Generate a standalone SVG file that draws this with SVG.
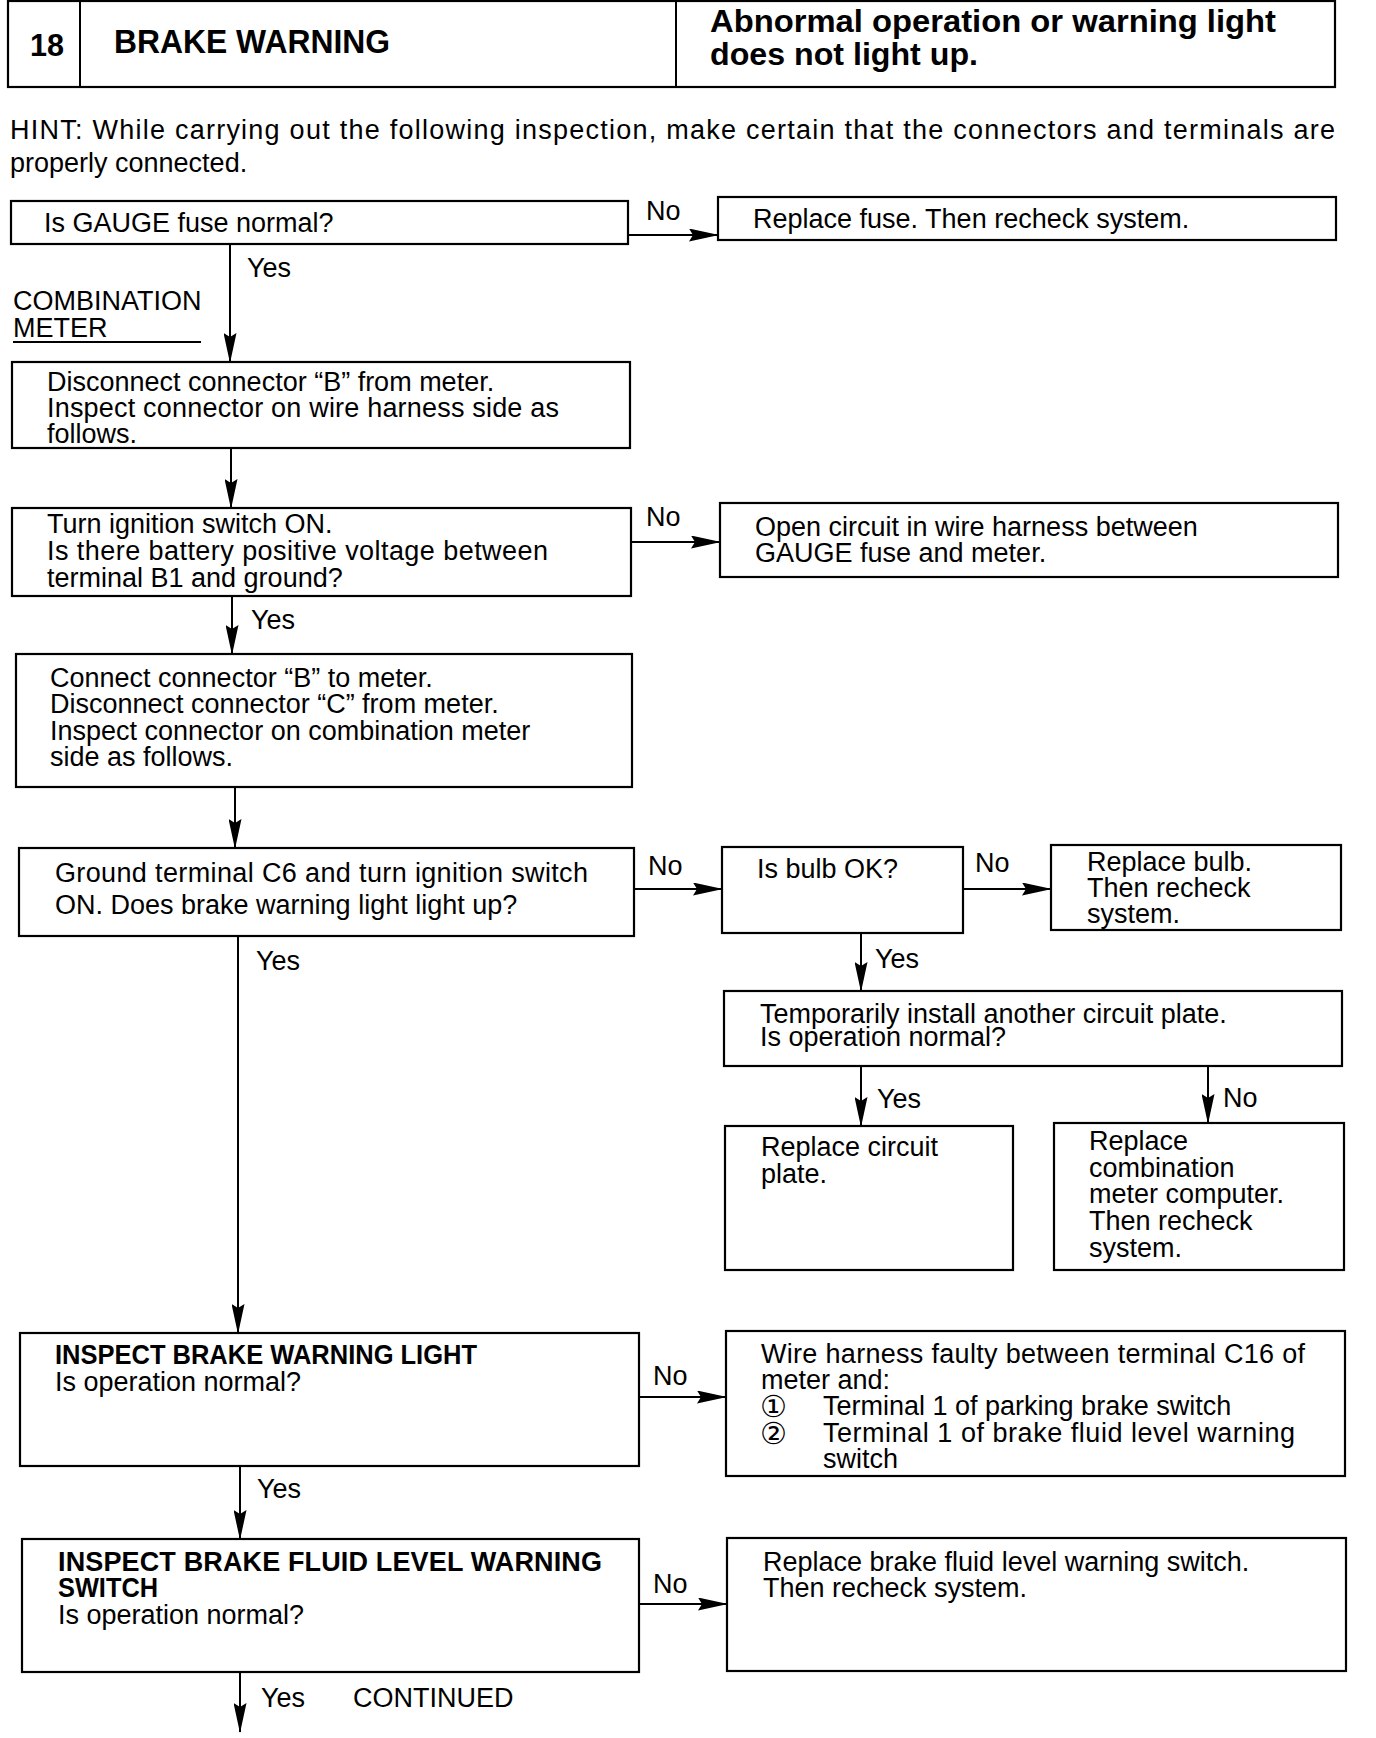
<svg xmlns="http://www.w3.org/2000/svg" width="1376" height="1738" viewBox="0 0 1376 1738">
<style>
text{font-family:"Liberation Sans",Arial,sans-serif;font-size:27px;fill:#000}
.b{font-weight:bold}
.box{fill:#fff;stroke:#000;stroke-width:2.2}
.ln{stroke:#000;stroke-width:2;fill:none}
.circ{font-family:"DejaVu Sans","Liberation Sans",sans-serif;font-size:30px}
</style>
<defs>
<marker id="ah" markerWidth="30" markerHeight="13" refX="29" refY="6.5" orient="auto" markerUnits="userSpaceOnUse">
<path d="M0,0 L30,6.5 L0,13 L4,6.5 Z" fill="#000"/>
</marker>
</defs>
<rect width="1376" height="1738" fill="#fff"/>

<g id="header">
<rect x="8" y="1" width="1327" height="86" fill="none" stroke="#000" stroke-width="2.2"/>
<line x1="80" y1="1" x2="80" y2="87" class="ln"/>
<line x1="676" y1="1" x2="676" y2="87" class="ln"/>
<text x="30" y="56" class="b" style="font-size:32px" textLength="34" lengthAdjust="spacingAndGlyphs">18</text>
<text x="114" y="53" class="b" style="font-size:33px" textLength="276" lengthAdjust="spacingAndGlyphs">BRAKE WARNING</text>
<text x="710" y="32" class="b" style="font-size:32px" textLength="566" lengthAdjust="spacingAndGlyphs">Abnormal operation or warning light</text>
<text x="710" y="65" class="b" style="font-size:32px" textLength="268" lengthAdjust="spacingAndGlyphs">does not light up.</text>
</g>

<g id="hint">
<text x="10" y="139" textLength="1325" lengthAdjust="spacing">HINT:  While carrying out the following inspection, make certain that the connectors and terminals are</text>
<text x="10" y="172">properly connected.</text>
</g>

<g id="connectors">
<line x1="628" y1="235" x2="718" y2="235" class="ln" marker-end="url(#ah)"/>
<line x1="230" y1="244" x2="230" y2="362" class="ln" marker-end="url(#ah)"/>
<line x1="231" y1="448" x2="231" y2="508" class="ln" marker-end="url(#ah)"/>
<line x1="631" y1="542" x2="720" y2="542" class="ln" marker-end="url(#ah)"/>
<line x1="232" y1="596" x2="232" y2="654" class="ln" marker-end="url(#ah)"/>
<line x1="235" y1="787" x2="235" y2="848" class="ln" marker-end="url(#ah)"/>
<line x1="634" y1="889" x2="722" y2="889" class="ln" marker-end="url(#ah)"/>
<line x1="963" y1="889" x2="1051" y2="889" class="ln" marker-end="url(#ah)"/>
<line x1="861" y1="933" x2="861" y2="991" class="ln" marker-end="url(#ah)"/>
<line x1="861" y1="1066" x2="861" y2="1126" class="ln" marker-end="url(#ah)"/>
<line x1="1208" y1="1066" x2="1208" y2="1123" class="ln" marker-end="url(#ah)"/>
<line x1="238" y1="936" x2="238" y2="1333" class="ln" marker-end="url(#ah)"/>
<line x1="639" y1="1397" x2="726" y2="1397" class="ln" marker-end="url(#ah)"/>
<line x1="240" y1="1466" x2="240" y2="1539" class="ln" marker-end="url(#ah)"/>
<line x1="639" y1="1604" x2="727" y2="1604" class="ln" marker-end="url(#ah)"/>
<line x1="240" y1="1672" x2="240" y2="1732" class="ln" marker-end="url(#ah)"/>
<text x="646" y="220">No</text>
<text x="247" y="277">Yes</text>
<text x="646" y="526">No</text>
<text x="251" y="629">Yes</text>
<text x="648" y="875">No</text>
<text x="975" y="872">No</text>
<text x="256" y="970">Yes</text>
<text x="875" y="968">Yes</text>
<text x="877" y="1108">Yes</text>
<text x="1223" y="1107">No</text>
<text x="653" y="1385">No</text>
<text x="257" y="1498">Yes</text>
<text x="653" y="1593">No</text>
<text x="261" y="1707">Yes</text>
<text x="353" y="1707">CONTINUED</text>
</g>

<g id="label-combination-meter">
<text x="13" y="310">COMBINATION</text>
<text x="13" y="337">METER</text>
<line x1="13" y1="342" x2="201" y2="342" class="ln" stroke-width="1.5"/>
</g>

<g id="n1">
<rect x="11" y="201" width="617" height="43" class="box"/>
<text x="44" y="232">Is GAUGE fuse normal?</text>
</g>
<g id="n2">
<rect x="718" y="197" width="618" height="43" class="box"/>
<text x="753" y="228">Replace fuse. Then recheck system.</text>
</g>
<g id="n3">
<rect x="12" y="362" width="618" height="86" class="box"/>
<text x="47" y="391">Disconnect connector “B” from meter.</text>
<text x="47" y="417" textLength="512" lengthAdjust="spacing">Inspect connector on wire harness side as</text>
<text x="47" y="443">follows.</text>
</g>
<g id="n4">
<rect x="12" y="508" width="619" height="88" class="box"/>
<text x="47" y="533">Turn ignition switch ON.</text>
<text x="47" y="560" textLength="501" lengthAdjust="spacing">Is there battery positive voltage between</text>
<text x="47" y="587">terminal B1 and ground?</text>
</g>
<g id="n5">
<rect x="720" y="503" width="618" height="74" class="box"/>
<text x="755" y="536">Open circuit in wire harness between</text>
<text x="755" y="562">GAUGE fuse and meter.</text>
</g>
<g id="n6">
<rect x="16" y="654" width="616" height="133" class="box"/>
<text x="50" y="687">Connect connector “B” to meter.</text>
<text x="50" y="713">Disconnect connector “C” from meter.</text>
<text x="50" y="740">Inspect connector on combination meter</text>
<text x="50" y="766">side as follows.</text>
</g>
<g id="n7">
<rect x="19" y="848" width="615" height="88" class="box"/>
<text x="55" y="882" textLength="533" lengthAdjust="spacing">Ground terminal C6 and turn ignition switch</text>
<text x="55" y="914">ON. Does brake warning light light up?</text>
</g>
<g id="n8">
<rect x="722" y="847" width="241" height="86" class="box"/>
<text x="757" y="878">Is bulb OK?</text>
</g>
<g id="n9">
<rect x="1051" y="845" width="290" height="85" class="box"/>
<text x="1087" y="871">Replace bulb.</text>
<text x="1087" y="897">Then recheck</text>
<text x="1087" y="923">system.</text>
</g>
<g id="n10">
<rect x="724" y="991" width="618" height="75" class="box"/>
<text x="760" y="1023">Temporarily install another circuit plate.</text>
<text x="760" y="1046">Is operation normal?</text>
</g>
<g id="n11">
<rect x="725" y="1126" width="288" height="144" class="box"/>
<text x="761" y="1156">Replace circuit</text>
<text x="761" y="1183">plate.</text>
</g>
<g id="n12">
<rect x="1054" y="1123" width="290" height="147" class="box"/>
<text x="1089" y="1150">Replace</text>
<text x="1089" y="1177">combination</text>
<text x="1089" y="1203">meter computer.</text>
<text x="1089" y="1230">Then recheck</text>
<text x="1089" y="1257">system.</text>
</g>
<g id="n13">
<rect x="20" y="1333" width="619" height="133" class="box"/>
<text x="55" y="1364" class="b" textLength="422" lengthAdjust="spacingAndGlyphs">INSPECT BRAKE WARNING LIGHT</text>
<text x="55" y="1391">Is operation normal?</text>
</g>
<g id="n14">
<rect x="726" y="1331" width="619" height="145" class="box"/>
<text x="761" y="1363" textLength="544" lengthAdjust="spacing">Wire harness faulty between terminal C16 of</text>
<text x="761" y="1389">meter and:</text>
<text x="760" y="1417" class="circ">①</text>
<text x="823" y="1415">Terminal 1 of parking brake switch</text>
<text x="760" y="1444" class="circ">②</text>
<text x="823" y="1442" textLength="472" lengthAdjust="spacing">Terminal 1 of brake fluid level warning</text>
<text x="823" y="1468">switch</text>
</g>
<g id="n15">
<rect x="22" y="1539" width="617" height="133" class="box"/>
<text x="58" y="1571" class="b" textLength="544" lengthAdjust="spacing">INSPECT BRAKE FLUID LEVEL WARNING</text>
<text x="58" y="1597" class="b" textLength="100" lengthAdjust="spacingAndGlyphs">SWITCH</text>
<text x="58" y="1624">Is operation normal?</text>
</g>
<g id="n16">
<rect x="727" y="1538" width="619" height="133" class="box"/>
<text x="763" y="1571">Replace brake fluid level warning switch.</text>
<text x="763" y="1597">Then recheck system.</text>
</g>
</svg>
